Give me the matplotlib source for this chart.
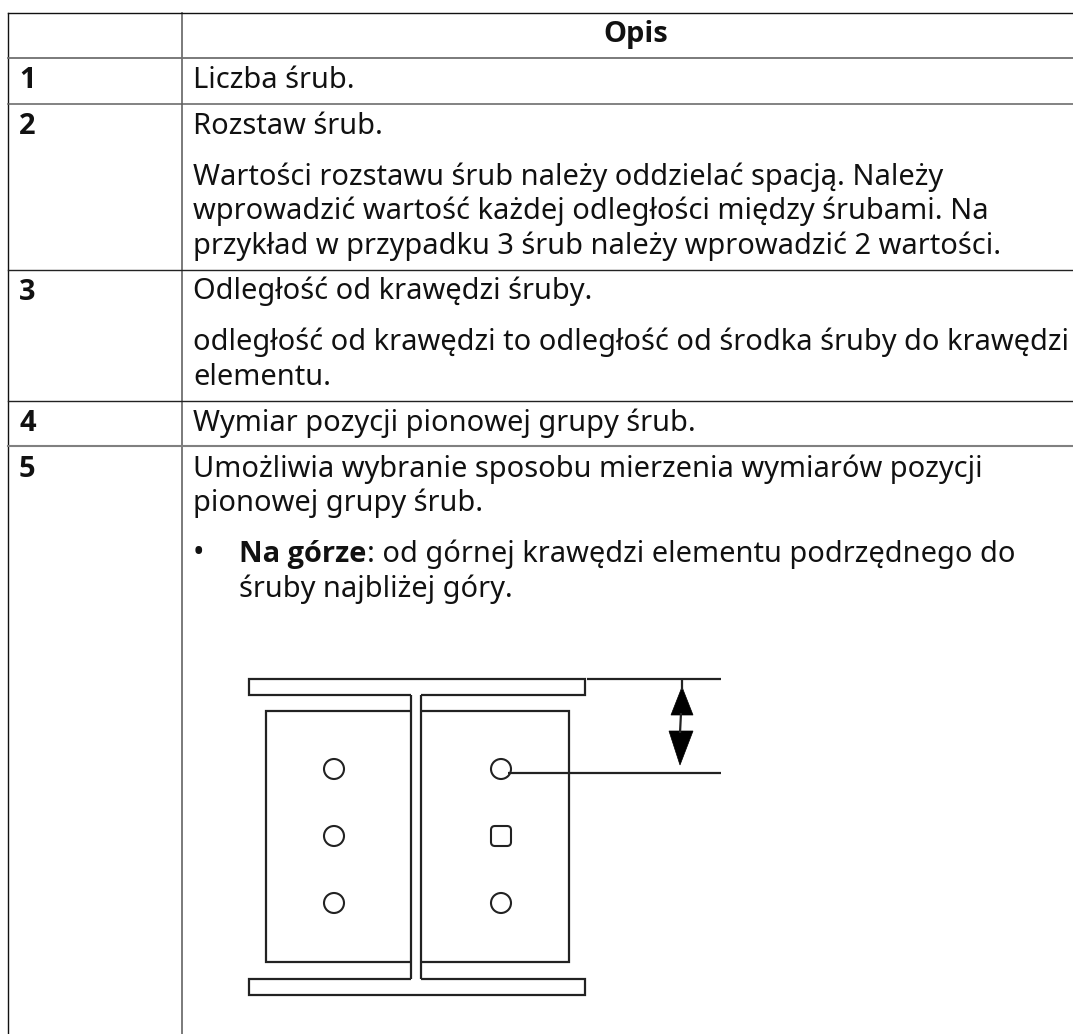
import matplotlib
matplotlib.use('Agg')
import matplotlib.pyplot as plt
from matplotlib.patches import Polygon, Circle, FancyBboxPatch

W, H = 1073, 1034

# table text, y is the baseline in pixels
header = 'Opis'
row_ids = ['1', '2', '3', '4', '5']
row_id_y = [88, 134, 300, 431, 477]
desc_lines = [
    ('Liczba śrub.', 88),
    ('Rozstaw śrub.', 134),
    ('Wartości rozstawu śrub należy oddzielać spacją. Należy', 185),
    ('wprowadzić wartość każdej odległości między śrubami. Na', 219),
    ('przykład w przypadku 3 śrub należy wprowadzić 2 wartości.', 254),
    ('Odległość od krawędzi śruby.', 299),
    ('odległość od krawędzi to odległość od środka śruby do krawędzi', 350),
    ('elementu.', 385),
    ('Wymiar pozycji pionowej grupy śrub.', 431),
    ('Umożliwia wybranie sposobu mierzenia wymiarów pozycji', 477),
    ('pionowej grupy śrub.', 511),
]
row_lines = [12.5, 58, 103.5, 269.5, 400.5, 446]
row_colors = ['#111111', '#707070', '#606060', '#222222', '#222222', '#808080']
row_widths = [1.0, 1.3, 1.1, 1.0, 1.0, 1.5]

# drawing outlines
flange_top = [(411, 695), (249, 695), (249, 679), (585, 679), (585, 695), (421, 695)]
flange_bot = [(411, 979), (249, 979), (249, 995), (585, 995), (585, 979), (421, 979)]
plate_left = [(410, 711), (266, 711), (266, 962), (410, 962)]
plate_right = [(422, 711), (569, 711), (569, 962), (422, 962)]
webs = [[(411, 695), (411, 979)], [(421, 695), (421, 979)]]
dim_lines = [[(587, 679), (721, 679)], [(508, 773), (721, 773)], [(682, 680), (682, 690)], [(681, 713), (680, 733)]]
bolt_x = [334, 501]
bolt_y = [769, 836, 903]
arrow_up = [(682, 687), (671, 715), (693, 715)]
arrow_down = [(669, 731), (693, 731), (680, 765)]

fig = plt.figure(figsize=(W / 100, H / 100), dpi=100)
ax = fig.add_axes([0, 0, 1, 1])
ax.set_xlim(0, W)
ax.set_ylim(H, 0)
ax.axis('off')

FS = 20.9
BODY = ['Noto Sans', 'DejaVu Sans']
BOLD = ['Open Sans', 'DejaVu Sans']
txt = '#111111'

# table grid
ax.plot([7.5, 7.5], [12.5, H], color='#111111', lw=1.0)
ax.plot([182, 182], [12.5, H], color='#707070', lw=1.3)
for y, c, w in zip(row_lines, row_colors, row_widths):
    ax.plot([7.5, W], [y, y], color=c, lw=w)

ax.text(635.5, 42, header, fontsize=FS, family=BOLD, fontweight='bold', ha='center', va='baseline', color=txt)
for s, y in zip(row_ids, row_id_y):
    ax.text(19, y, s, fontsize=FS, family=BOLD, fontweight='bold', ha='left', va='baseline', color=txt)
for s, y in desc_lines:
    ax.text(193, y, s, fontsize=FS, family=BODY, ha='left', va='baseline', color=txt)

# bullet item
ax.text(198, 562, '•', fontsize=FS * 1.05, family=BODY, ha='center', va='baseline', color=txt)
t = ax.text(239, 562, 'Na górze', fontsize=FS, family=BOLD, fontweight='bold', ha='left', va='baseline', color=txt)
fig.canvas.draw()
end_x = ax.transData.inverted().transform(t.get_window_extent().get_points())[1][0]
ax.text(end_x + 1, 562, ': od górnej krawędzi elementu podrzędnego do', fontsize=FS, family=BODY, ha='left', va='baseline', color=txt)
ax.text(239, 597, 'śruby najbliżej góry.', fontsize=FS, family=BODY, ha='left', va='baseline', color=txt)

# steel section
lc = '#222222'
for pts in [flange_top, flange_bot, plate_left, plate_right] + webs + dim_lines:
    ax.plot(*zip(*pts), color=lc, lw=1.6, solid_capstyle='butt', solid_joinstyle='miter')
for x in bolt_x:
    for y in bolt_y:
        if x == bolt_x[1] and y == bolt_y[1]:
            ax.add_patch(FancyBboxPatch((x - 7, y - 7), 14, 14, boxstyle='round,pad=3,rounding_size=4', fill=False, ec=lc, lw=1.5))
        else:
            ax.add_patch(Circle((x, y), 10, fill=False, ec=lc, lw=1.5))
ax.add_patch(Polygon(arrow_up, closed=True, fc='k', ec='k', lw=0.5))
ax.add_patch(Polygon(arrow_down, closed=True, fc='k', ec='k', lw=0.5))

fig.savefig('out.png', dpi=100)
